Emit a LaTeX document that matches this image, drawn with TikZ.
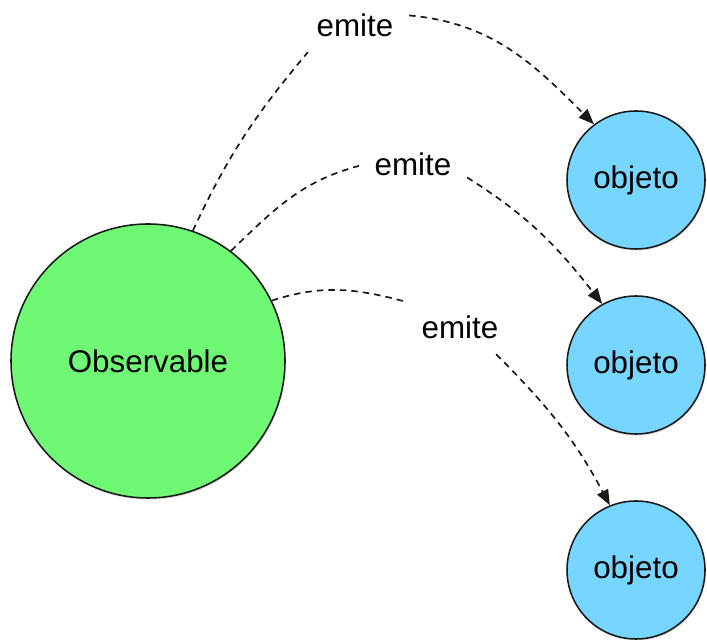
\documentclass[tikz,border=0pt]{standalone}
\usepackage{fontspec}
\setmainfont{Liberation Sans}
\usetikzlibrary{arrows.meta,shadows}
\definecolor{srcgreen}{RGB}{111,248,115}
\definecolor{itemblue}{RGB}{118,214,255}

\begin{document}
\begin{tikzpicture}[
         font=\fontsize{22.3}{26}\selectfont,
         bubble/.style={circle, draw=black!90, line width=1.1pt, inner sep=0pt,
           drop shadow={opacity=0.25, shadow xshift=0.6pt, shadow yshift=-1.2pt}},
         source/.style={bubble, fill=srcgreen, minimum size=6.85cm},
         item/.style={bubble, fill=itemblue, minimum size=3.45cm},
         tag/.style={inner sep=11pt},
         emits/.style={black!90, line width=1.2pt, dash pattern=on 4.6pt off 3.6pt},
         emitsto/.style={emits, -{Triangle[length=11pt, width=8.5pt]}}]
         \useasboundingbox (0, 0) rectangle (17.675, 16);
         \node [source] (obs) at (3.7, 6.975) {Observable};
         \node [item] (obj1) at (15.9, 11.5) {objeto};
         \node [item] (obj2) at (15.9, 6.875) {objeto};
         \node [item] (obj3) at (15.9, 1.75) {objeto};
         \node [tag] (e1) at (8.875, 15.375) {emite};
         \node [tag] (e2) at (10.325, 11.9) {emite};
         \node [tag] (e3) at (11.5, 7.825) {emite};
         \draw [emits] (obs.71) to [out=65, in=230] (e1.210);
         \draw [emitsto] (e1.10) to [out=-5, in=135] (obj1.127);
         \draw [emits] (obs.53) to [out=44, in=195] (e2.182);
         \draw [emitsto] (e2.-14) to [out=-32, in=128] (obj2.119);
         \draw [emits] (obs.26) to [out=18, in=165] (e3.155);
         \draw [emitsto] (e3.-37) to [out=-45, in=118] (obj3.112);
\end{tikzpicture}
\end{document}
